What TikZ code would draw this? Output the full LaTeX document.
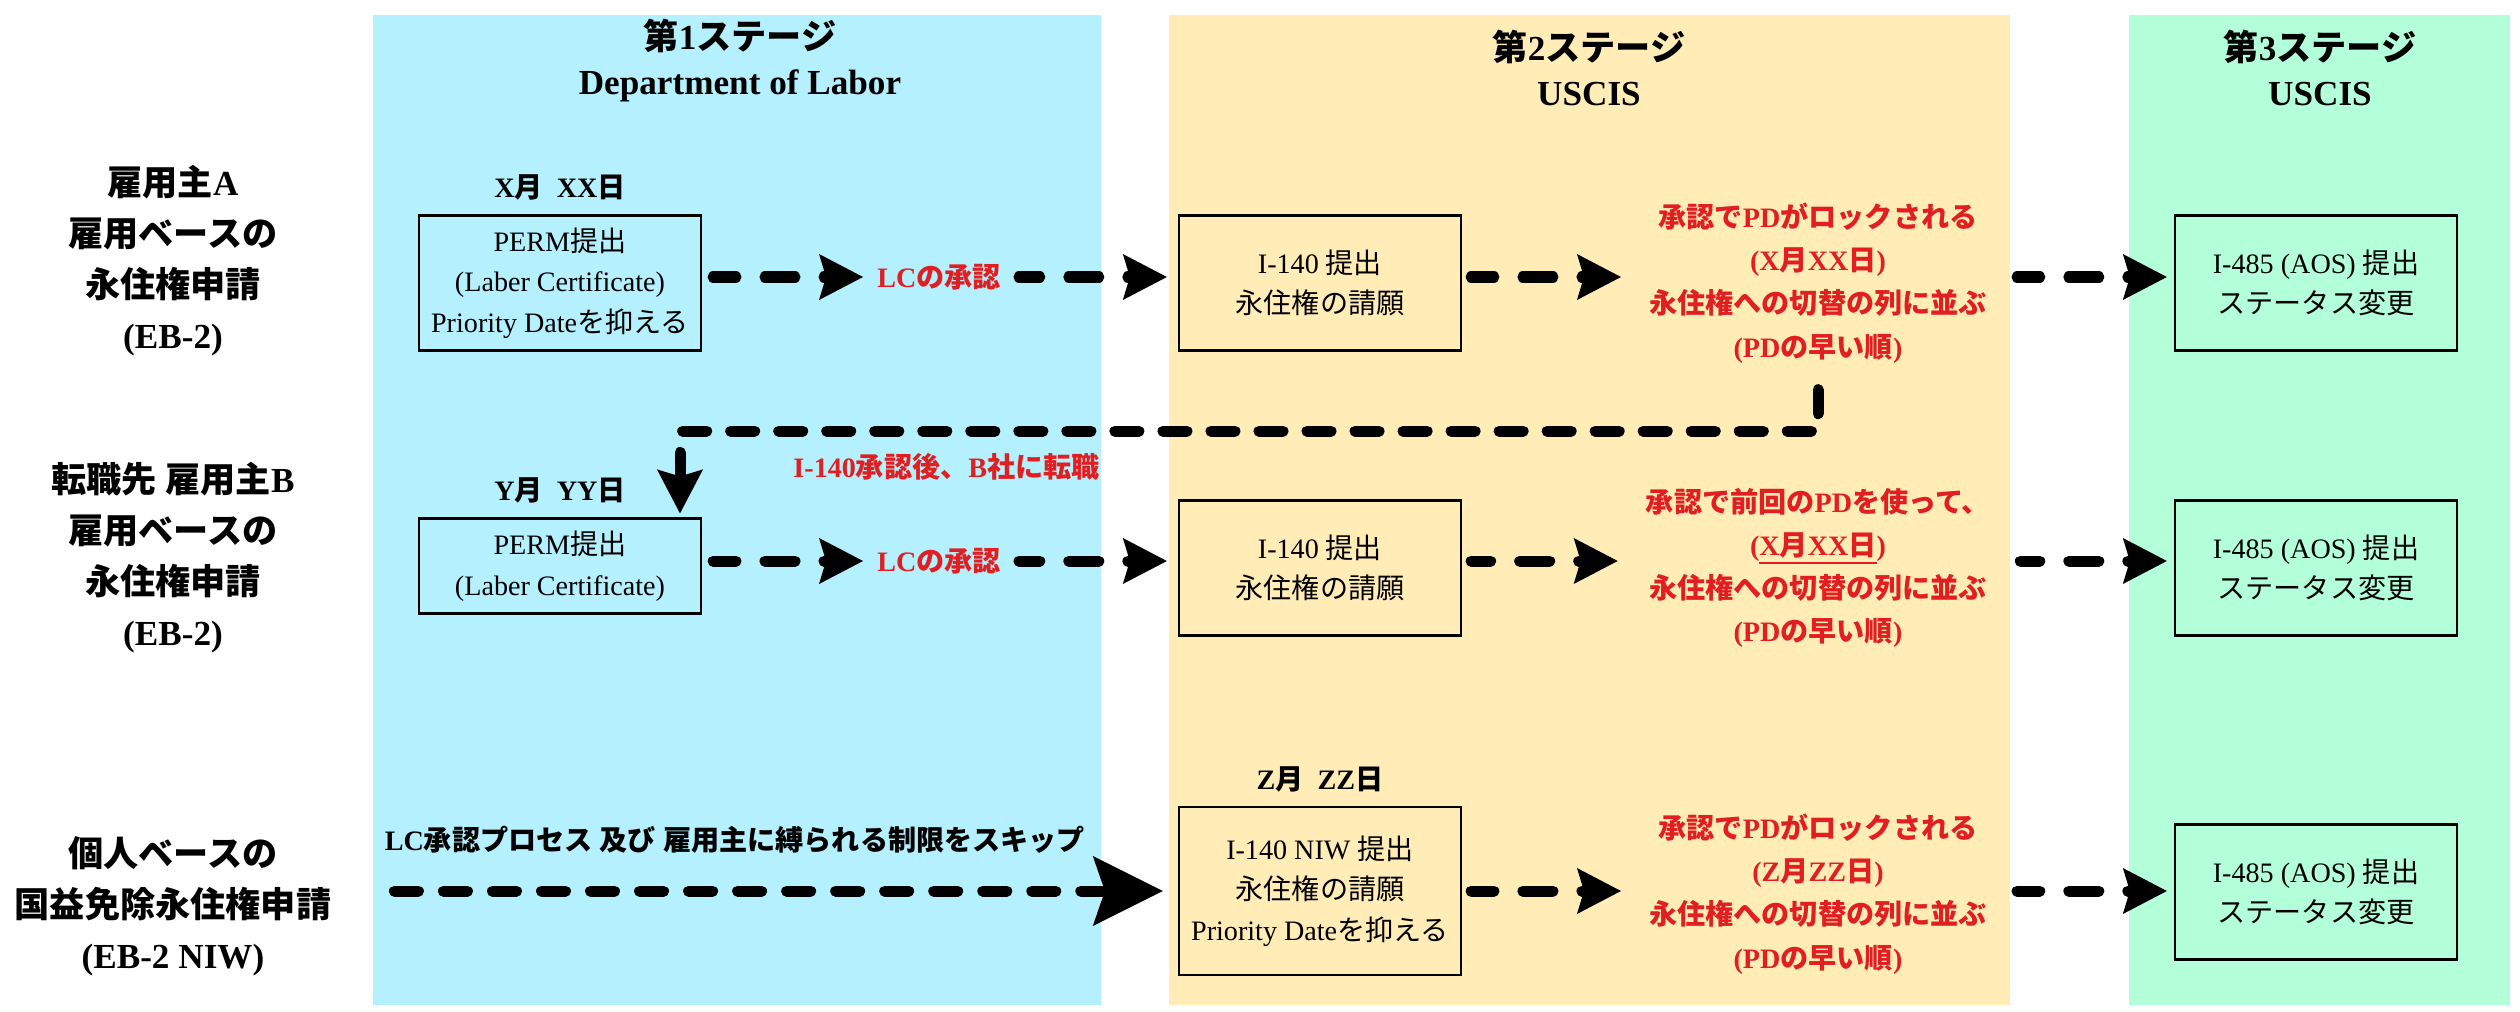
\documentclass[tikz,border=0pt]{standalone}
\usepackage{fontspec}
\setmainfont{Liberation Serif}
\newfontfamily\jpfont{Noto Sans CJK JP}
\usepackage{xcolor}
\usetikzlibrary{arrows.meta, positioning}

\definecolor{stageblue}{RGB}{180,240,253}
\definecolor{stageyellow}{RGB}{255,236,182}
\definecolor{stagegreen}{RGB}{179,255,217}
\definecolor{notered}{RGB}{225,30,34}

% Japanese characters switch to the CJK font by themselves
\XeTeXinterchartokenstate=1
\newXeTeXintercharclass\jpclass
\newcount\jpcode
\newcommand\jprange[2]{%
  \jpcode=#1\relax
  \loop
    \XeTeXcharclass\jpcode=\jpclass
    \ifnum\jpcode<#2\relax \advance\jpcode by 1 \repeat}
\jprange{"3000}{"30FF}
\jprange{"4E00}{"9FFF}
\jprange{"FF00}{"FFEF}
\XeTeXinterchartoks 0 \jpclass = {\begingroup\jpfont}
\XeTeXinterchartoks 4095 \jpclass = {\begingroup\jpfont}
\XeTeXinterchartoks \jpclass 0 = {\endgroup}
\XeTeXinterchartoks \jpclass 4095 = {\endgroup}

\begin{document}
\begin{tikzpicture}[x=0.01cm, y=0.01cm,
    box/.style={rectangle, draw=black, line width=0.6pt, minimum width=2.82cm, minimum height=1.35cm, align=center, font=\fontsize{8}{11.5}\selectfont, inner sep=1pt},
    head/.style={align=center, font=\fontsize{10}{12.8}\selectfont\bfseries},
    rowlbl/.style={align=center, font=\fontsize{10}{14.5}\selectfont\bfseries},
    datelbl/.style={font=\fontsize{8}{10}\selectfont\bfseries, inner sep=1pt},
    note/.style={align=center, text=notered, font=\fontsize{8}{12.3}\selectfont\bfseries, inner sep=1pt},
    % drawn from the tip back to the tail, so the dashes run into the head
    arr/.style={line width=0.11cm, line cap=round, line join=round, dash pattern=on 0.02cm off 0.29cm on 0.30cm off 0.29cm on 0.30cm off 0.29cm, {Stealth[length=0.44cm, width=0.46cm, inset=0.07cm, line width=0pt]}-},
    linkarr/.style={arr, dash pattern=on 0.24cm off 0.24cm},
    bigarr/.style={linkarr, dash pattern=on 0.24cm off 0.25cm, {Stealth[length=0.7cm, width=0.7cm, inset=0.12cm, line width=0pt]}-}
]
\useasboundingbox (0,0) rectangle (2520,-1012);

% stage columns
\fill[stageblue] (373,-15) rectangle (1101,-1005);
\fill[stageyellow] (1169,-15) rectangle (2010,-1005);
\fill[stagegreen] (2129,-15) rectangle (2510,-1005);

\node[head] (st1) at (740,-61) {第1ステージ\\Department of Labor};
\node[head] (st2) at (1589,-68) {第2ステージ\\USCIS};
\node[head] (st3) at (2320,-68) {第3ステージ\\USCIS};

\node[rowlbl] (who1) at (173,-261) {雇用主A\\雇用ベースの\\永住権申請\\(EB-2)};
\node[rowlbl] (who2) at (173,-558) {転職先 雇用主B\\雇用ベースの\\永住権申請\\(EB-2)};
\node[rowlbl] (who3) at (173,-906) {個人ベースの\\国益免除永住権申請\\(EB-2 NIW)};

% employer A
\node[box] (perm1) at (560,-283) {PERM提出\\(Laber Certificate)\\Priority Dateを抑える};
\node[datelbl, above=0.1cm of perm1] (date1) {X月\hspace{0.5em}XX日};
\node[note] (lc1) at (939,-277) {LCの承認};
\node[box] (i140a) at (1320,-283) {I-140 提出\\永住権の請願};
\node[note] (pd1) at (1818,-283) {承認でPDがロックされる\\(X月XX日)\\永住権への切替の列に並ぶ\\(PDの早い順)};
\node[box] (i485a) at (2316,-283) {I-485 (AOS) 提出\\ステータス変更};

\draw[arr, shorten <=0.1cm, shorten >=0.11cm] (lc1) -- (perm1.east |- lc1);
\draw[arr, shorten <=0.11cm, shorten >=0.14cm] (i140a.west |- lc1) -- (lc1);
\draw[arr, shorten <=0.24cm, shorten >=0.09cm] (pd1.west |- lc1) -- (i140a.east |- lc1);
\draw[arr, shorten <=0.07cm, shorten >=0.26cm] (i485a.west |- lc1) -- (pd1.east |- lc1);

% employer B
\node[box, minimum height=0.95cm] (perm2) at (560,-566) {PERM提出\\(Laber Certificate)};
\node[datelbl, above=0.1cm of perm2] (date2) {Y月\hspace{0.5em}YY日};
\node[note] (lc2) at (939,-561) {LCの承認};
\node[box] (i140b) at (1320,-568) {I-140 提出\\永住権の請願};
\node[note] (pd2) at (1818,-568) {承認で前回のPDを使って、\\(\underline{X月XX日})\\永住権への切替の列に並ぶ\\(PDの早い順)};
\node[box] (i485b) at (2316,-568) {I-485 (AOS) 提出\\ステータス変更};

\draw[arr, shorten <=0.1cm, shorten >=0.11cm] (lc2) -- (perm2.east |- lc2);
\draw[arr, shorten <=0.11cm, shorten >=0.14cm] (i140b.west |- lc2) -- (lc2);
\draw[arr, shorten <=0.24cm, shorten >=0.09cm] (pd2.west |- lc2) -- (i140b.east |- lc2);
\draw[arr, shorten <=0.07cm, shorten >=0.26cm] (i485b.west |- lc2) -- (pd2.east |- lc2);

% job change after I-140
\coordinate (jump) at (680,-431);
\draw[linkarr, shorten <=0.04cm, shorten >=0.08cm] (jump |- perm2.north) -- (jump) -| (pd1.south);
\node[note, anchor=east] (move) at (1104,-467) {I-140承認後、B社に転職};

% NIW
\node[box, minimum height=1.68cm] (i140c) at (1320,-891) {I-140 NIW 提出\\永住権の請願\\Priority Dateを抑える};
\node[datelbl, above=0.1cm of i140c] (date3) {Z月\hspace{0.5em}ZZ日};
\node[note] (pd3) at (1818,-894) {承認でPDがロックされる\\(Z月ZZ日)\\永住権への切替の列に並ぶ\\(PDの早い順)};
\node[box] (i485c) at (2316,-892) {I-485 (AOS) 提出\\ステータス変更};
\coordinate (skip) at (389,-891);
\node[datelbl] (skiptxt) at (735,-840) {LC承認プロセス 及び 雇用主に縛られる制限をスキップ};

\draw[bigarr, shorten <=0.15cm] (i140c) -- (skip);
\draw[arr, shorten <=0.24cm, shorten >=0.09cm] (pd3.west |- i140c) -- (i140c);
\draw[arr, shorten <=0.07cm, shorten >=0.26cm] (i485c.west |- i140c) -- (pd3.east |- i140c);

\end{tikzpicture}
\end{document}
